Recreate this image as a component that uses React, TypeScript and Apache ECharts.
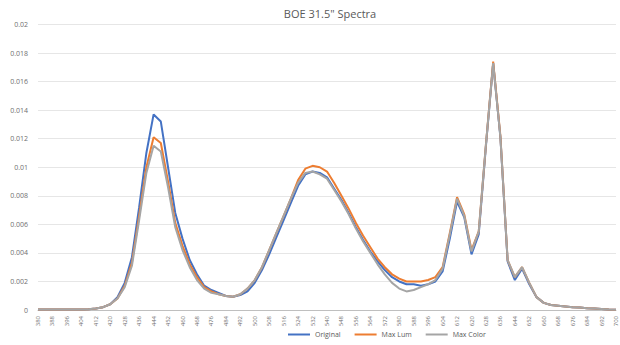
import React, { useEffect, useRef } from "react";
import * as echarts from "echarts";

const wavelengths: string[] = [];
for (let w = 380; w <= 700; w += 4) wavelengths.push(String(w));

// 380 .. 700 nm, 4 nm steps (81 points)
const original = [
  0.00003, 0.00003, 0.00003, 0.00003, 0.00003, 0.00003, 0.00003, 0.00005, 0.0001, 0.0002,
  0.0004, 0.0009, 0.0019, 0.0037, 0.0072, 0.011, 0.0137, 0.0132, 0.01, 0.0068,
  0.005, 0.0035, 0.0025, 0.0017, 0.0014, 0.0012, 0.00098, 0.00093, 0.00105, 0.0013,
  0.0019, 0.0028, 0.0039, 0.0051, 0.0063, 0.0075, 0.0087, 0.0095, 0.0097, 0.0096,
  0.0093, 0.0085, 0.0077, 0.0068, 0.0058, 0.0049, 0.0041, 0.0034, 0.0028, 0.0023,
  0.002, 0.0018, 0.0018, 0.0017, 0.0018, 0.002, 0.0027, 0.005, 0.0076, 0.0065,
  0.0039, 0.0053, 0.0115, 0.0173, 0.0121, 0.0034, 0.0021, 0.0029, 0.0018, 0.0009,
  0.0005, 0.00035, 0.0003, 0.00025, 0.0002, 0.00018, 0.00012, 0.0001, 0.00007, 0.00004,
  0.00002,
];
const maxLum = [
  0.00003, 0.00003, 0.00003, 0.00003, 0.00003, 0.00003, 0.00003, 0.00005, 0.0001, 0.0002,
  0.0004, 0.0008, 0.0017, 0.0033, 0.0066, 0.01, 0.0121, 0.0117, 0.009, 0.0061,
  0.0045, 0.0032, 0.0023, 0.0016, 0.0013, 0.0011, 0.00098, 0.00093, 0.0011, 0.0015,
  0.0021, 0.003, 0.0042, 0.0054, 0.0066, 0.0078, 0.0091, 0.0099, 0.0101, 0.01,
  0.0097, 0.0089, 0.008, 0.0071, 0.0061, 0.0052, 0.0044, 0.0036, 0.003, 0.0025,
  0.0022, 0.002, 0.002, 0.002, 0.0021, 0.0023, 0.003, 0.0054, 0.0079, 0.0067,
  0.0042, 0.0055, 0.0116, 0.0174, 0.0122, 0.0035, 0.0023, 0.003, 0.0019, 0.0009,
  0.0005, 0.00035, 0.0003, 0.00025, 0.0002, 0.00018, 0.00012, 0.0001, 0.00007, 0.00004,
  0.00002,
];
const maxColor = [
  0.00003, 0.00003, 0.00003, 0.00003, 0.00003, 0.00003, 0.00003, 0.00005, 0.0001, 0.0002,
  0.0004, 0.0008, 0.0016, 0.0031, 0.0063, 0.0096, 0.0115, 0.0111, 0.0086, 0.0058,
  0.0042, 0.003, 0.0021, 0.0015, 0.0012, 0.0011, 0.00098, 0.00093, 0.0011, 0.0015,
  0.0021, 0.003, 0.0042, 0.0054, 0.0066, 0.0078, 0.0089, 0.0096, 0.0097, 0.0095,
  0.0092, 0.0084, 0.0076, 0.0067, 0.0057, 0.0048, 0.004, 0.0032, 0.0025, 0.0019,
  0.0015, 0.0013, 0.0014, 0.0016, 0.0018, 0.0021, 0.0029, 0.0053, 0.0078, 0.0066,
  0.0041, 0.0055, 0.0116, 0.0173, 0.0121, 0.0035, 0.0023, 0.003, 0.0019, 0.0009,
  0.0005, 0.00035, 0.0003, 0.00025, 0.0002, 0.00018, 0.00012, 0.0001, 0.00007, 0.00004,
  0.00002,
];

const FONT = "'Open Sans', 'Noto Sans', sans-serif";

export default function App() {
  const ref = useRef<HTMLDivElement>(null);
  useEffect(() => {
    if (!ref.current) return;
    const chart = echarts.init(ref.current, null, { renderer: "svg" });
    const mk = (name: string, data: number[], color: string) => ({
      name,
      type: "line",
      data,
      symbol: "none",
      smooth: false,
      lineStyle: { color, width: 2 },
      itemStyle: { color },
    });
    chart.setOption({
      animation: false,
      backgroundColor: "#ffffff",
      color: ["#4472C4", "#ED7D31", "#A5A5A5"],
      title: {
        text: 'BOE 31.5" Spectra',
        left: 325,
        top: 3,
        textAlign: "center",
        textStyle: { fontFamily: FONT, fontSize: 11, fontWeight: "normal", color: "#595959" },
      },
      legend: {
        left: 288,
        top: 331,
        itemWidth: 22,
        itemHeight: 2,
        itemGap: 14,
        icon: "rect",
        padding: 0,
        textStyle: { fontFamily: FONT, fontSize: 7, color: "#595959" },
        data: ["Original", "Max Lum", "Max Color"],
      },
      grid: { left: 38, right: 4, top: 24.5, bottom: 35, containLabel: false },
      xAxis: {
        type: "category",
        data: wavelengths,
        boundaryGap: false,
        axisLine: { lineStyle: { color: "#bfbfbf", width: 1 } },
        axisTick: { show: false },
        axisLabel: {
          interval: 1,
          rotate: 90,
          fontFamily: FONT,
          fontSize: 6,
          color: "#6f6f6f",
          margin: 6,
        },
        splitLine: { show: false },
      },
      yAxis: {
        type: "value",
        min: 0,
        max: 0.02,
        interval: 0.002,
        axisLine: { show: false },
        axisTick: { show: false },
        axisLabel: {
          fontFamily: FONT,
          fontSize: 7,
          color: "#6f6f6f",
          margin: 10,
          formatter: (v: number) => String(parseFloat(v.toFixed(4))),
        },
        splitLine: { lineStyle: { color: "#e6e6e6", width: 1 } },
      },
      series: [
        mk("Original", original, "#4472C4"),
        mk("Max Lum", maxLum, "#ED7D31"),
        mk("Max Color", maxColor, "#A5A5A5"),
      ],
    });
    return () => chart.dispose();
  }, []);
  return <div ref={ref} style={{ width: 620, height: 345, position: "absolute", left: 0, top: 0 }} />;
}
